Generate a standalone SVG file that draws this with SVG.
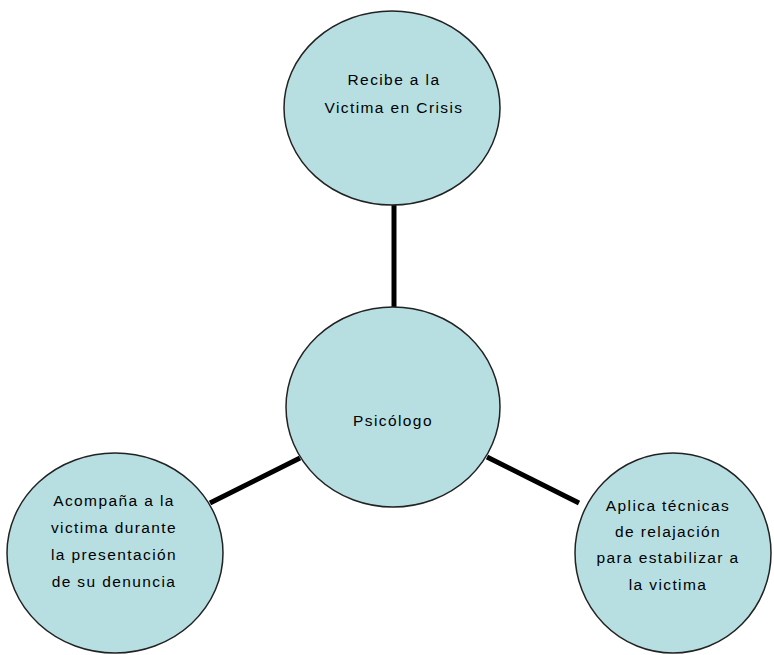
<svg xmlns="http://www.w3.org/2000/svg" width="774" height="655" viewBox="0 0 774 655">
<style>
.node{fill:#B7DFE2;stroke:#222;stroke-width:1.5}
.lbl{font-family:"Liberation Sans",Arial,sans-serif;font-size:15.5px;letter-spacing:1.4px;fill:#000;text-anchor:middle}
.edge{stroke:#000;stroke-width:5;fill:none}
</style>
<rect width="774" height="655" fill="#fff"/>
<g id="connectors">
<line class="edge" x1="394" y1="203" x2="394" y2="309"/>
<line class="edge" x1="210" y1="503" x2="300" y2="458"/>
<line class="edge" x1="487" y1="457" x2="579" y2="503"/>
</g>
<g id="node-top">
<ellipse class="node" cx="392" cy="108" rx="108" ry="97"/>
<text class="lbl" x="394" y="85">Recibe a la</text>
<text class="lbl" x="394" y="113">Victima en Crisis</text>
</g>
<g id="node-center">
<ellipse class="node" cx="393" cy="407" rx="107" ry="100"/>
<text class="lbl" x="393" y="426">Psicólogo</text>
</g>
<g id="node-left">
<ellipse class="node" cx="115" cy="553" rx="108" ry="100"/>
<text class="lbl" x="114" y="506">Acompaña a la</text>
<text class="lbl" x="114" y="533">victima durante</text>
<text class="lbl" x="114" y="560">la presentación</text>
<text class="lbl" x="114" y="587">de su denuncia</text>
</g>
<g id="node-right">
<ellipse class="node" cx="673" cy="553" rx="98" ry="100"/>
<text class="lbl" x="668" y="511">Aplica técnicas</text>
<text class="lbl" x="668" y="537">de relajación</text>
<text class="lbl" x="668" y="563">para estabilizar a</text>
<text class="lbl" x="668" y="590">la victima</text>
</g>
</svg>
